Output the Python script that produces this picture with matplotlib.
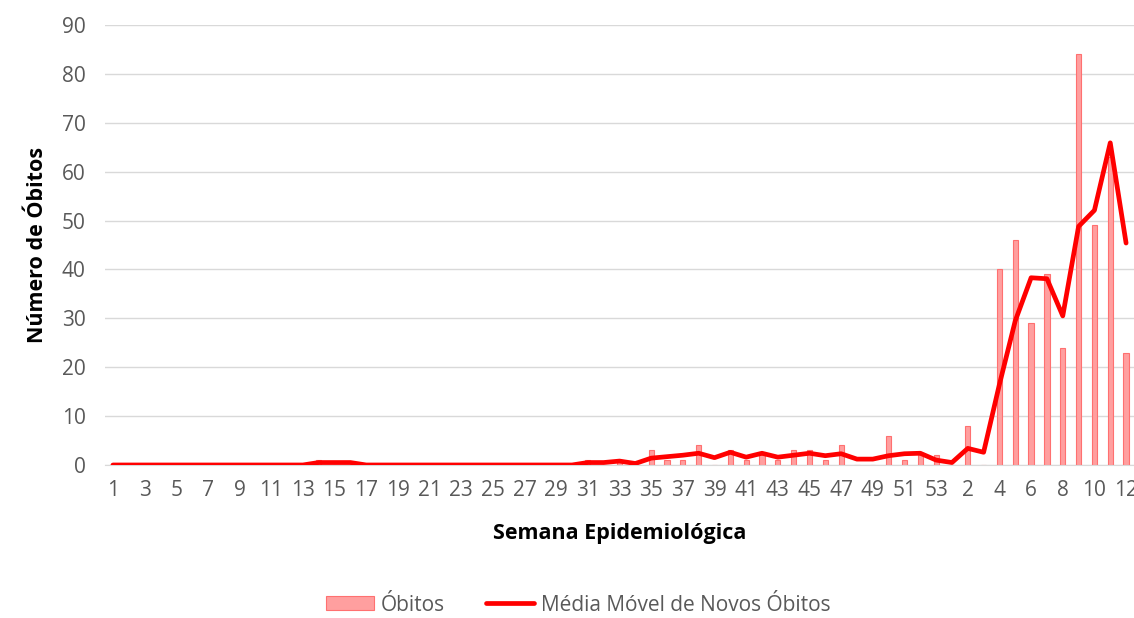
import matplotlib
matplotlib.use("Agg")
import matplotlib.pyplot as plt
import numpy as np

plt.rcParams["font.family"] = ["Open Sans", "DejaVu Sans"]

# semanas epidemiologicas: 2020 (1-53) seguido de 2021 (1-12)
semanas = [str(s) for s in range(1, 54)] + [str(s) for s in range(1, 13)]

obitos = [
    0, 0, 0, 0, 0, 0, 0, 0, 0, 0, 0, 0, 0, 1, 0, 0, 0, 0, 0, 0,
    0, 0, 0, 0, 0, 0, 0, 0, 0, 0, 1, 0, 1, 0, 3, 1, 1, 4, 0, 3,
    1, 2, 1, 3, 3, 1, 4, 0, 0, 6, 1, 2, 2,
    0, 8, 0, 40, 46, 29, 39, 24, 84, 49, 63, 23,
]

media_movel = [
    0, 0, 0, 0, 0, 0, 0, 0, 0, 0, 0, 0, 0, 0.5, 0.5, 0.5, 0, 0, 0, 0,
    0, 0, 0, 0, 0, 0, 0, 0, 0, 0, 0.5, 0.5, 0.8, 0.3, 1.4, 1.7, 2.0, 2.4, 1.5, 2.6,
    1.6, 2.4, 1.6, 2.0, 2.4, 1.9, 2.3, 1.2, 1.2, 1.9, 2.3, 2.4, 1.0,
    0.5, 3.4, 2.6, 16.5, 29.5, 38.3, 38.1, 30.5, 48.8, 52.1, 65.9, 45.4,
]

x = np.arange(len(semanas))

fig = plt.figure(figsize=(11.34, 6.18), dpi=100)
ax = fig.add_axes([0.0926, 0.2476, 0.9074, 0.7119])

bars = ax.bar(x, obitos, width=0.33, color="#ff9f9f", edgecolor="#ff7070",
              linewidth=0.8, label="Óbitos", zorder=2)
line, = ax.plot(x, media_movel, color="#ff0000", linewidth=3.4,
                solid_joinstyle="round", solid_capstyle="round",
                label="Média Móvel de Novos Óbitos", zorder=3)

ax.set_xlim(-0.5, len(semanas) - 0.5)
ax.set_ylim(0, 90)
ax.set_yticks(range(0, 91, 10))
ax.set_xticks(x[::2])
ax.set_xticklabels(semanas[::2])

ax.grid(axis="y", color="#d9d9d9", linewidth=1.0, zorder=0)
ax.set_axisbelow(True)
for s in ["top", "right", "left"]:
    ax.spines[s].set_visible(False)
ax.spines["bottom"].set_color("#d9d9d9")
ax.tick_params(axis="both", length=0, labelsize=15, colors="#595959")
ax.tick_params(axis="x", pad=11)
ax.tick_params(axis="y", pad=14)

ax.set_xlabel("Semana Epidemiológica", fontsize=15.5, fontweight="bold",
              color="black", labelpad=16)
ax.set_ylabel("Número de Óbitos", fontsize=15.5, fontweight="bold",
              color="black", labelpad=10)

fig.legend([bars, line], ["Óbitos", "Média Móvel de Novos Óbitos"],
           loc="center", bbox_to_anchor=(0.51, 0.021), ncol=2,
           frameon=False, fontsize=15, handlelength=2.3, handleheight=0.65,
           columnspacing=2.0, labelcolor="#595959", handletextpad=0.3,
           borderaxespad=0)

plt.savefig("out.png", dpi=100)
plt.close()
